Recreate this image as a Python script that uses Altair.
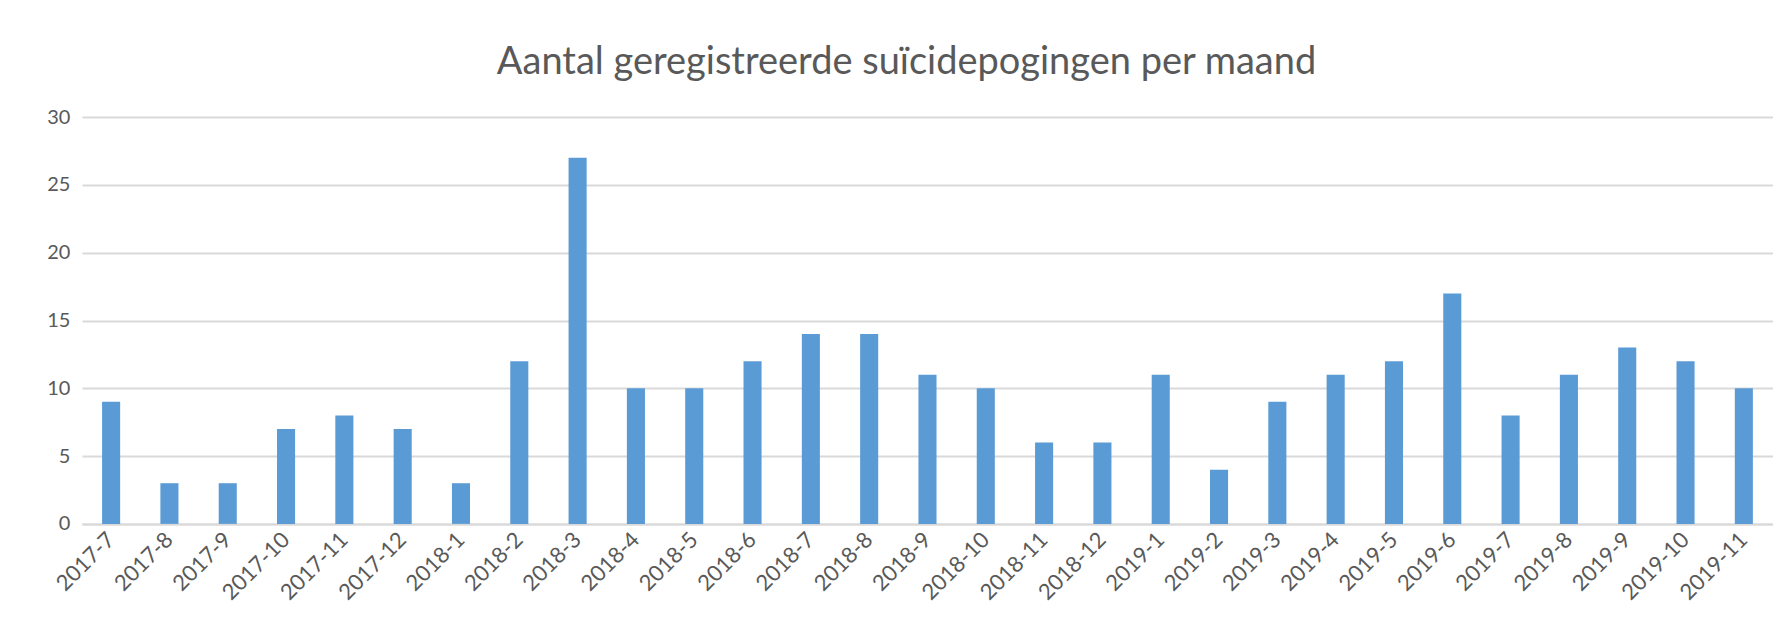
import altair as alt
import pandas as pd

months = ["2017-7", "2017-8", "2017-9", "2017-10", "2017-11", "2017-12",
          "2018-1", "2018-2", "2018-3", "2018-4", "2018-5", "2018-6",
          "2018-7", "2018-8", "2018-9", "2018-10", "2018-11", "2018-12",
          "2019-1", "2019-2", "2019-3", "2019-4", "2019-5", "2019-6",
          "2019-7", "2019-8", "2019-9", "2019-10", "2019-11"]
counts = [9, 3, 3, 7, 8, 7, 3, 12, 27, 10, 10, 12, 14, 14, 11, 10, 6, 6,
          11, 4, 9, 11, 12, 17, 8, 11, 13, 12, 10]
y_ticks = [0, 5, 10, 15, 20, 25, 30]

df = pd.DataFrame({"maand": months, "aantal": counts})

FONT = "Lato"
TXT = "#595959"
GRID = "#d9d9d9"

chart = alt.Chart(df).mark_bar(color="#5b9bd5").encode(
    x=alt.X("maand:N", sort=months,
            scale=alt.Scale(paddingInner=0.69, paddingOuter=0.345),
            axis=alt.Axis(title=None, labelAngle=-45, labelAlign="right",
                          labelBaseline="middle", labelPadding=12,
                          labelFontSize=22, labelColor=TXT, labelFont=FONT,
                          ticks=False, domain=True, domainColor=GRID,
                          domainWidth=2, grid=False)),
    y=alt.Y("aantal:Q", scale=alt.Scale(domain=[0, 30], nice=False),
            axis=alt.Axis(title=None, values=y_ticks, labelFontSize=20,
                          labelColor=TXT, labelFont=FONT, labelPadding=12,
                          ticks=False, domain=False, gridColor=GRID,
                          gridWidth=2)),
).properties(
    width=1692, height=407,
    title=alt.TitleParams("Aantal geregistreerde suïcidepogingen per maand",
                          font=FONT, fontSize=38, fontWeight="normal",
                          color=TXT, anchor="middle", dx=-21, offset=25),
    autosize=alt.AutoSizeParams(type="none"),
    padding={"left": 74, "top": 109, "right": 0, "bottom": 118},
).configure_view(stroke=None)

chart.save("out.html", embed_options={"renderer": "svg", "actions": False})
